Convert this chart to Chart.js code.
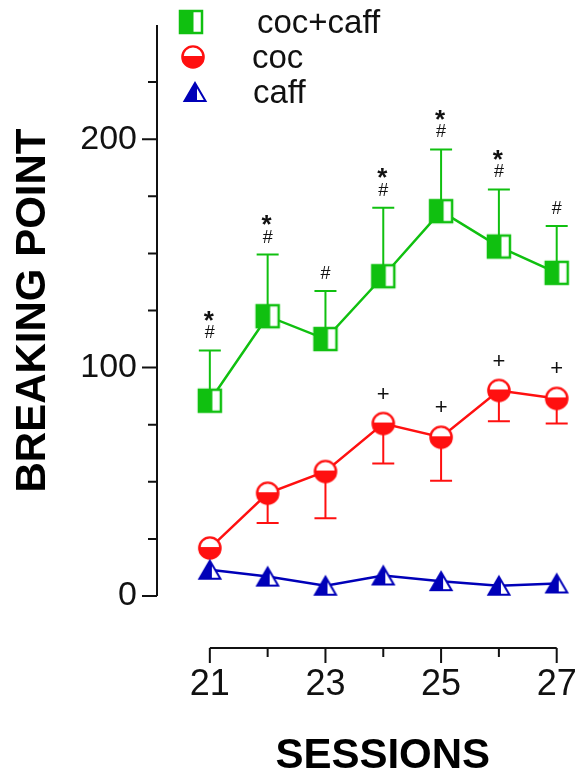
<!DOCTYPE html>
<html>
<head>
<meta charset="utf-8">
<script src="https://cdn.jsdelivr.net/npm/chart.js@4.4.0/dist/chart.umd.min.js"></script>
<style>
  html, body { margin: 0; padding: 0; background: #fff; }
  #wrap { width: 582px; height: 776px; position: relative; }
</style>
</head>
<body>
<div id="wrap"><canvas id="grafico"></canvas></div>
<script>
// Datos
const sesiones = [21, 22, 23, 24, 25, 26, 27];
const cocCaff = [85.5, 122.5, 112.5, 140, 168.5, 153, 141.5];
const cocCaffErr = [22, 27, 21, 30, 27, 25, 20.5];
const coc = [21, 45, 54.5, 75.5, 69.5, 90, 86.5];
const cocErr = [0.5, 13, 20.5, 17.5, 19, 13.5, 11];
const caff = [11.5, 8.5, 4.5, 9, 6.5, 4.5, 5.5];
const marcasCocCaff = ['*#', '*#', '#', '*#', '*#', '*#', '#'];
const marcasCoc = ['', '', '', '+', '+', '+', '+'];
const etiquetasY = [0, 100, 200];
const etiquetasX = [21, 23, 25, 27];

const fuente = "'Liberation Sans', Arial, sans-serif";
const verde = '#10c010';
const rojo = '#ff1010';
const azul = '#0000b8';

// Marcadores medio rellenos (como en la figura original)
function marcaCuadrado(color) {
    const c = document.createElement('canvas');
    c.width = 28; c.height = 28;
    const g = c.getContext('2d');
    g.fillStyle = '#fff'; g.fillRect(3, 3, 22, 22);
    g.fillStyle = color; g.fillRect(3, 3, 13.5, 22);
    g.strokeStyle = color; g.lineWidth = 2.5; g.strokeRect(3, 3, 22, 22);
    return c;
}

function marcaCirculo(color) {
    const c = document.createElement('canvas');
    c.width = 28; c.height = 28;
    const g = c.getContext('2d');
    g.beginPath(); g.arc(14, 14, 10.6, 0, Math.PI * 2);
    g.fillStyle = '#fff'; g.fill();
    g.save(); g.clip();
    g.fillStyle = color; g.fillRect(0, 13, 28, 15);
    g.restore();
    g.beginPath(); g.arc(14, 14, 10.6, 0, Math.PI * 2);
    g.strokeStyle = color; g.lineWidth = 2.4; g.stroke();
    return c;
}

function marcaTriangulo(color) {
    const c = document.createElement('canvas');
    c.width = 26; c.height = 24;
    const g = c.getContext('2d');
    const camino = () => { g.beginPath(); g.moveTo(13, 3); g.lineTo(23.5, 21); g.lineTo(2.5, 21); g.closePath(); };
    camino(); g.fillStyle = '#fff'; g.fill();
    g.save(); camino(); g.clip();
    g.fillStyle = color; g.fillRect(0, 0, 15, 24);
    g.restore();
    camino(); g.strokeStyle = color; g.lineWidth = 2; g.stroke();
    return c;
}

const puntoCocCaff = marcaCuadrado(verde);
const puntoCoc = marcaCirculo(rojo);
const puntoCaff = marcaTriangulo(azul);

// Ejes desplazados, barras de error, marcas de significancia y leyenda
const ejesYBarras = {
    id: 'ejesYBarras',
    beforeDatasetsDraw(chart) {
        const { ctx, scales: { x, y } } = chart;
        ctx.save();
        chart.data.datasets.forEach(ds => {
            if (!ds.errores) return;
            ctx.strokeStyle = ds.borderColor;
            ctx.lineWidth = 2;
            ds.data.forEach((p, i) => {
                const px = x.getPixelForValue(p.x);
                const y0 = y.getPixelForValue(p.y);
                const y1 = y.getPixelForValue(p.y + ds.sentido * ds.errores[i]);
                ctx.beginPath();
                ctx.moveTo(px, y0); ctx.lineTo(px, y1);
                ctx.moveTo(px - 11, y1); ctx.lineTo(px + 11, y1);
                ctx.stroke();
            });
        });
        ctx.restore();
    },
    afterDraw(chart) {
        const { ctx, chartArea, scales: { x, y } } = chart;
        ctx.save();
        ctx.strokeStyle = '#111';
        ctx.lineWidth = 2;

        // eje Y
        const xEje = chartArea.left - 40;
        ctx.beginPath();
        ctx.moveTo(xEje, y.getPixelForValue(0));
        ctx.lineTo(xEje, y.getPixelForValue(y.max));
        y.ticks.forEach(t => {
            if (t.value >= y.max) return;
            const py = y.getPixelForValue(t.value);
            const largo = etiquetasY.includes(t.value) ? 15 : 9;
            ctx.moveTo(xEje, py); ctx.lineTo(xEje - largo, py);
        });
        ctx.stroke();

        // eje X
        const yEje = chartArea.bottom + 52;
        ctx.beginPath();
        ctx.moveTo(x.getPixelForValue(sesiones[0]), yEje);
        ctx.lineTo(x.getPixelForValue(sesiones[sesiones.length - 1]), yEje);
        x.ticks.forEach(t => {
            const px = x.getPixelForValue(t.value);
            const largo = etiquetasX.includes(t.value) ? 15 : 9;
            ctx.moveTo(px, yEje); ctx.lineTo(px, yEje + largo);
        });
        ctx.stroke();

        // marcas de significancia
        ctx.fillStyle = '#111';
        ctx.textAlign = 'center';
        ctx.textBaseline = 'middle';
        const dsVerde = chart.data.datasets[0];
        dsVerde.data.forEach((p, i) => {
            const tope = y.getPixelForValue(p.y + cocCaffErr[i]);
            const px = x.getPixelForValue(p.x);
            const m = marcasCocCaff[i];
            if (m.includes('#')) {
                ctx.font = '18px ' + fuente;
                ctx.fillText('#', px, tope - 17);
            }
            if (m.includes('*')) {
                ctx.font = 'bold 26px ' + fuente;
                ctx.fillText('*', px - 1, tope - 29);
            }
        });
        const dsRojo = chart.data.datasets[1];
        dsRojo.data.forEach((p, i) => {
            if (!marcasCoc[i]) return;
            ctx.font = '22px ' + fuente;
            ctx.fillText(marcasCoc[i], x.getPixelForValue(p.x), y.getPixelForValue(p.y) - 29);
        });

        // leyenda
        ctx.textAlign = 'left';
        ctx.font = '33px ' + fuente;
        const filas = [
            { img: puntoCocCaff, cx: 191, cy: 22, tx: 257, txt: chart.data.datasets[0].label },
            { img: puntoCoc, cx: 193, cy: 57, tx: 252, txt: chart.data.datasets[1].label },
            { img: puntoCaff, cx: 195, cy: 92, tx: 253, txt: chart.data.datasets[2].label }
        ];
        filas.forEach(f => {
            ctx.drawImage(f.img, f.cx - f.img.width / 2, f.cy - f.img.height / 2);
            ctx.fillText(f.txt, f.tx, f.cy + 2);
        });
        ctx.restore();
    }
};

const aPuntos = valores => sesiones.map((s, i) => ({ x: s, y: valores[i] }));

// el relleno de las etiquetas no debe empujar el área del gráfico
const sinRelleno = s => {
    s.paddingTop = 0; s.paddingBottom = 0;
    s.paddingLeft = 0; s.paddingRight = 0;
};

new Chart(document.getElementById('grafico'), {
    type: 'line',
    data: {
        datasets: [
            {
                label: 'coc+caff', data: aPuntos(cocCaff), errores: cocCaffErr, sentido: 1,
                borderColor: verde, borderWidth: 2.5, pointStyle: puntoCocCaff, order: 2, clip: false
            },
            {
                label: 'coc', data: aPuntos(coc), errores: cocErr, sentido: -1,
                borderColor: rojo, borderWidth: 2.5, pointStyle: puntoCoc, order: 1, clip: false
            },
            {
                label: 'caff', data: aPuntos(caff),
                borderColor: azul, borderWidth: 2.5, pointStyle: puntoCaff, order: 0, clip: false
            }
        ]
    },
    options: {
        responsive: true,
        maintainAspectRatio: false,
        animation: false,
        layout: { padding: { top: 25, right: 8, left: 0, bottom: 0 } },
        elements: { line: { tension: 0 }, point: { radius: 11 } },
        plugins: {
            legend: { display: false },
            tooltip: { enabled: false }
        },
        scales: {
            x: {
                type: 'linear',
                min: 20.778,
                max: 27.204,
                afterBuildTicks: s => { s.ticks = sesiones.map(v => ({ value: v })); },
                afterFit: s => { s.height = 180; sinRelleno(s); },
                grid: { display: false, drawTicks: false },
                border: { display: false },
                ticks: {
                    padding: 67, autoSkip: false, maxRotation: 0, color: '#111',
                    font: { family: fuente, size: 36 },
                    callback: v => etiquetasX.includes(v) ? String(v) : ''
                },
                title: {
                    display: true, text: 'SESSIONS', color: '#000',
                    font: { family: fuente, size: 42, weight: 'bold', lineHeight: 1 },
                    padding: { top: 0, bottom: -1 }
                }
            },
            y: {
                min: 0,
                max: 250,
                afterFit: s => { s.width = 197; sinRelleno(s); },
                grid: { display: false, drawTicks: false },
                border: { display: false },
                ticks: {
                    stepSize: 25, padding: 60, autoSkip: false, color: '#111',
                    font: { family: fuente, size: 34 },
                    callback: v => etiquetasY.includes(v) ? String(v) : ''
                },
                title: {
                    display: true, text: 'BREAKING POINT', color: '#000',
                    font: { family: fuente, size: 42, weight: 'bold', lineHeight: 1 },
                    padding: { top: 12, bottom: 0 }
                }
            }
        }
    },
    plugins: [ejesYBarras]
});
</script>
</body>
</html>
